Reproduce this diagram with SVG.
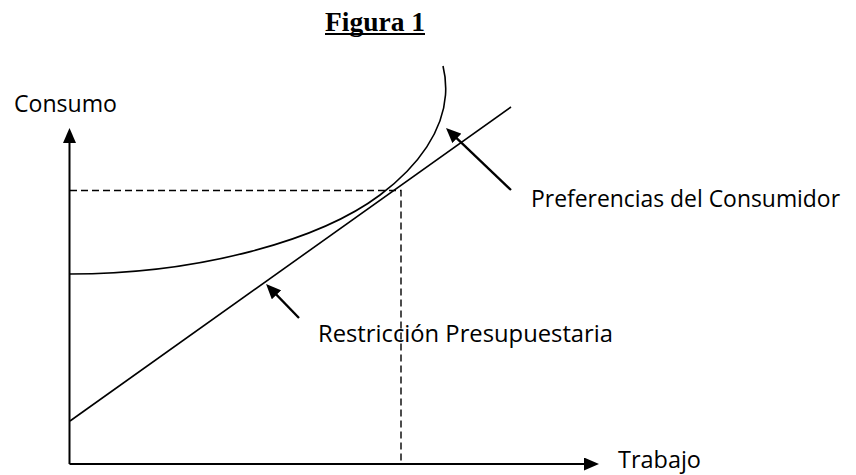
<svg xmlns="http://www.w3.org/2000/svg" width="856" height="475" viewBox="0 0 856 475">
<style>
.lbl{font-family:"Open Sans","Liberation Sans",sans-serif;font-size:24px;fill:#000}
.ttl{font-family:"Liberation Serif","Times New Roman",serif;font-size:27.5px;font-weight:bold;fill:#000}
.axis{stroke:#000;stroke-width:2;fill:none}
.curve{stroke:#000;stroke-width:1.6;fill:none}
.dash{stroke:#000;stroke-width:1.4;fill:none;stroke-dasharray:7 4}
.ptr{stroke:#000;stroke-width:2.3;fill:none}
</style>
<defs>
<marker id="head" viewBox="0 0 15 13" markerWidth="15" markerHeight="13" refX="4" refY="6.5" orient="auto" markerUnits="userSpaceOnUse">
<path d="M0,0 L15,6.5 L0,13 z" fill="#000"/>
</marker>
</defs>
<g id="title">
<text class="ttl" x="325" y="31" textLength="100" lengthAdjust="spacingAndGlyphs">Figura 1</text>
<line x1="325" y1="34" x2="425" y2="34" stroke="#000" stroke-width="2"/>
</g>
<g id="axes">
<path class="axis" d="M69.5,464 L69.5,139" marker-end="url(#head)"/>
<path class="axis" d="M69.5,464 L588,464" marker-end="url(#head)"/>
<text class="lbl" x="14" y="112" textLength="103" lengthAdjust="spacingAndGlyphs">Consumo</text>
<text class="lbl" x="618" y="468" textLength="83" lengthAdjust="spacingAndGlyphs">Trabajo</text>
</g>
<g id="guides">
<path class="dash" d="M70,190.5 L401,190.5 L401,464"/>
</g>
<g id="preferencias">
<path class="curve" d="M70,274 C200,274 320,240 380,195 C420,165 443,130 445.5,95 C446.3,83 445,74 443,66"/>
<text class="lbl" x="531" y="207" textLength="309" lengthAdjust="spacingAndGlyphs">Preferencias del Consumidor</text>
</g>
<g id="restriccion">
<line class="curve" x1="70" y1="421" x2="511" y2="107"/>
<text class="lbl" x="318" y="342" textLength="295" lengthAdjust="spacingAndGlyphs">Restricción Presupuestaria</text>
</g>
<g id="connectors">
<path class="ptr" d="M511,190 L453.96,135.6" marker-end="url(#head)"/>
<path class="ptr" d="M299,318 L273.7,291.9" marker-end="url(#head)"/>
</g>
</svg>
